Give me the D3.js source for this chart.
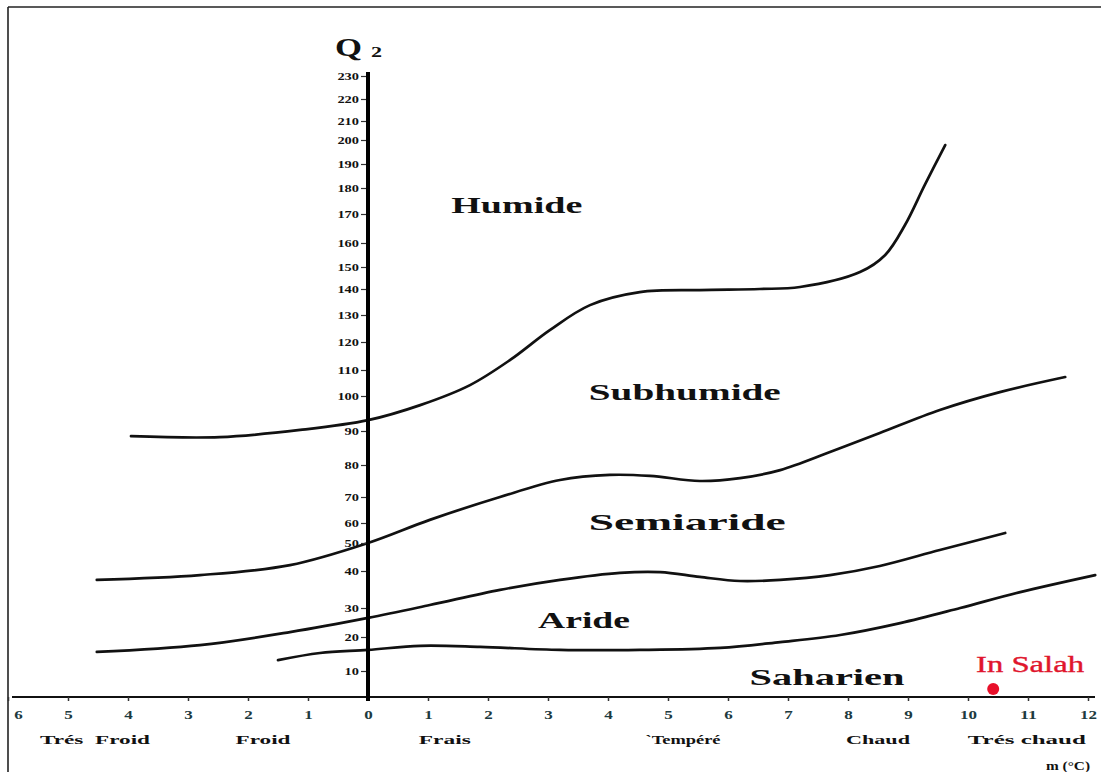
<!DOCTYPE html>
<html><head><meta charset="utf-8">
<script src="https://cdn.jsdelivr.net/npm/d3@7"></script>
<style>
html,body{margin:0;padding:0;background:#fff;}
svg{display:block;}
text{font-family:"Liberation Serif","DejaVu Serif",serif;}
</style></head>
<body>
<svg id="chart" width="1101" height="772"></svg>
<script>
// ---------- data ----------
const mTicks = d3.range(-6, 13);                 // m (°C)
const q2Ticks = d3.range(0, 240, 10);            // Q2

const humideSubhumide = [[-3.95,88.5],[-2.47,88.2],[-1.13,90.3],[0,93.1],[0.87,97.4],[1.7,104.2],[2.37,113.6],[3.03,124.4],[3.7,133.8],[4.53,138.8],[5.53,139.6],[6.53,140],[7.2,140.9],[8.2,147.7],[8.62,155],[8.95,166.2],[9.28,181.3],[9.62,197.9]];
const subhumideSemiaride = [[-4.52,37.6],[-2.8,38.9],[-1.3,42.1],[0,50],[1.03,61.2],[2.2,70],[3.2,75.3],[4.03,76.9],[4.7,76.6],[5.53,75],[6.2,75.9],[6.87,78.4],[7.7,83.8],[8.53,89.4],[9.53,96],[10.53,101.5],[11.62,107.3]];
const semiarideAride = [[-4.52,15.6],[-2.8,17.6],[-1.3,21.7],[0,26.6],[1.03,30.8],[2.2,34.9],[3.2,37.6],[4.2,39.5],[4.87,39.7],[5.53,38.4],[6.2,37.3],[6.87,37.6],[7.7,38.9],[8.53,41.8],[9.53,47.5],[10.62,55]];
const arideSaharien = [[-1.5,13.2],[-0.8,15.3],[0,16.2],[0.87,17.4],[1.87,17.1],[3.2,16.2],[4.53,16.2],[5.87,16.8],[6.87,18.5],[7.87,20.7],[8.87,24.8],[9.87,30],[10.87,34.3],[12.12,38.9]];

const zoneNames = ["Humide","Subhumide","Semiaride","Aride","Saharien"];
const zoneM     = [2.48, 5.28, 5.32, 3.6, 7.65];
const zoneQ2    = [170.4, 98.9, 56.5, 23.1, 4.6];

const thermalNames = ["Trés  Froid","Froid","Frais","`Tempéré","Chaud","Trés chaud"];
const thermalM     = [-4.55, -1.75, 1.28, 5.25, 8.5, 10.98];

const station = {name:"In Salah", m:10.42, q2:3.1};

// ---------- layout ----------
const svg = d3.select("#chart");
const x = d3.scaleLinear().domain([-6, 12]).range([8, 1088]);
// hand-drawn, irregular Q2 graduation
const yPx = [697,671,637,608,571,543,523,497,465,431,396,370,342,315,289,267,243,214,188,164,140,121,99,76];
const y = d3.scaleLinear().domain(q2Ticks).range(yPx);

// frame
svg.append("line").attr("x1",8).attr("x2",1101).attr("y1",7).attr("y2",7).attr("stroke","#222").attr("stroke-width",1.6);
svg.append("line").attr("x1",8).attr("x2",8).attr("y1",7).attr("y2",772).attr("stroke","#222").attr("stroke-width",1.6);

// boundary curves
const line = d3.line().x(d=>x(d[0])).y(d=>y(d[1])).curve(d3.curveCatmullRom.alpha(0.5));
[humideSubhumide, subhumideSemiaride, semiarideAride, arideSaharien].forEach(s=>{
  svg.append("path").attr("d", line(s)).attr("fill","none").attr("stroke","#111").attr("stroke-width",2.7).attr("stroke-linecap","round");
});

// x axis
const x0 = x(0);
svg.append("line").attr("x1",12).attr("x2",1095).attr("y1",y(0)).attr("y2",y(0)).attr("stroke","#111").attr("stroke-width",2);
const gx = svg.append("g").attr("transform",`translate(0,${y(0)})`)
  .call(d3.axisBottom(x).tickValues(mTicks).tickSize(4).tickPadding(9).tickFormat(d=>Math.abs(d)));
gx.select(".domain").remove();
gx.selectAll(".tick line").attr("stroke","#333").attr("stroke-width",1.5);
gx.selectAll(".tick text")
  .attr("font-size",13).attr("font-weight","bold").attr("fill","#1d3a40")
  .attr("font-family","Liberation Serif, serif")
  .attr("textLength", d=>String(Math.abs(d)).length*8.5).attr("lengthAdjust","spacingAndGlyphs")
  .attr("dx", d=> d===-6 ? 10 : 0);

// y axis
const gy = svg.append("g").attr("transform",`translate(${x0-2},0)`)
  .call(d3.axisLeft(y).tickValues(q2Ticks.filter(d=>d>0)).tickSize(5).tickPadding(2));
gy.select(".domain").remove();
gy.selectAll(".tick line").attr("stroke","#333").attr("stroke-width",1.2);
gy.selectAll(".tick text")
  .attr("font-size",11).attr("font-weight","bold").attr("fill","#111")
  .attr("font-family","Liberation Serif, serif")
  .attr("textLength", d=>String(d).length*7.2).attr("lengthAdjust","spacingAndGlyphs");
svg.append("line").attr("x1",x0).attr("x2",x0).attr("y1",y(230)-4).attr("y2",y(0)+4).attr("stroke","#000").attr("stroke-width",4);

// Q2 title
svg.append("text").attr("x",335).attr("y",56).attr("font-size",25).attr("font-weight","bold").attr("fill","#111")
  .attr("textLength",27).attr("lengthAdjust","spacingAndGlyphs").text("Q");
svg.append("text").attr("x",371).attr("y",57).attr("font-size",15).attr("font-weight","bold").attr("fill","#111")
  .attr("textLength",11).attr("lengthAdjust","spacingAndGlyphs").text("2");

// zone labels
const zoneW = [131, 192, 197, 92, 155];
zoneNames.forEach((n,i)=>{
  svg.append("text").attr("x",x(zoneM[i])).attr("y",y(zoneQ2[i])).attr("text-anchor","middle")
    .attr("font-size",23).attr("font-weight","bold").attr("fill","#111")
    .attr("textLength",zoneW[i]).attr("lengthAdjust","spacingAndGlyphs").text(n);
});

// thermal class labels
const thW = [110, 55, 52, 75, 64, 118];
thermalNames.forEach((n,i)=>{
  svg.append("text").attr("x",x(thermalM[i])).attr("y",744).attr("text-anchor","middle")
    .attr("font-size",12).attr("font-weight","bold").attr("fill","#111")
    .attr("textLength",thW[i]).attr("lengthAdjust","spacingAndGlyphs").attr("xml:space","preserve").text(n);
});
svg.append("text").attr("x",1068).attr("y",770).attr("text-anchor","middle")
  .attr("font-size",12).attr("font-weight","bold").attr("fill","#111")
  .attr("textLength",44).attr("lengthAdjust","spacingAndGlyphs").text("m (°C)");

// station
svg.append("circle").attr("cx",x(station.m)).attr("cy",y(station.q2)).attr("r",6).attr("fill","#e8102a");
svg.append("text").attr("x",1030).attr("y",y(10)+1).attr("text-anchor","middle")
  .attr("font-size",24).attr("fill","#e0152d").attr("stroke","#e0152d").attr("stroke-width",0.4)
  .attr("textLength",108).attr("lengthAdjust","spacingAndGlyphs").text(station.name);
</script>
</body></html>
